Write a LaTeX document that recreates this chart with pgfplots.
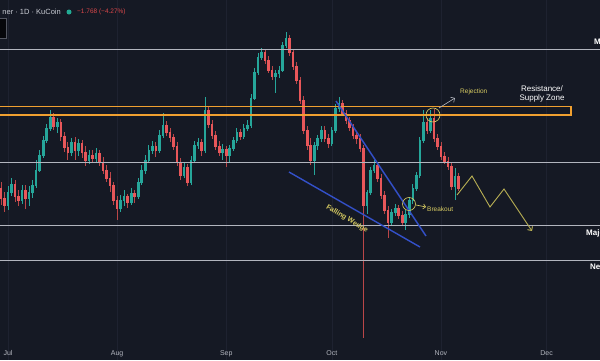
\documentclass[border=0pt]{standalone}
\usepackage{pgfplots}
\pgfplotsset{compat=1.18}
\usepackage{pgfplotstable}
\usepackage{fontspec}
\setmainfont{Liberation Sans}
\usetikzlibrary{arrows.meta}
\definecolor{bg}{HTML}{151924}
\definecolor{gridc}{HTML}{1E2230}
\definecolor{upc}{HTML}{26A69A}
\definecolor{dnc}{HTML}{E8575A}
\definecolor{lvl}{HTML}{B2B5BE}
\definecolor{zone}{HTML}{F0A030}
\definecolor{wedge}{HTML}{3350C8}
\definecolor{ann}{HTML}{D8CC62}
\definecolor{proj}{HTML}{B9B054}
\definecolor{hdr}{HTML}{C8CBD3}
\definecolor{hdrred}{HTML}{D9474A}
\definecolor{dotg}{HTML}{22AB94}
\definecolor{axtxt}{HTML}{B2B5BE}

% d open high low close  (prices in picture units, larger = lower)
\pgfplotstableread{
d o h l c
-2 188 182 205 198
-1 198 192 212 205
0 205 186 210 192
1 192 178 196 184
2 184 180 202 196
3 196 190 206 200
4 200 185 204 190
5 190 185 209 198
6 198 186 206 192
7 192 180 198 185
8 185 160 188 170
9 170 150 172 155
10 155 136 158 140
11 140 124 143 128
12 128 110 131 117
13 117 113 130 126
14 126 118 133 122
15 122 119 141 136
16 136 132 152 147
17 147 142 160 152
18 152 138 156 142
19 142 137 160 150
20 150 139 156 143
21 143 140 158 152
22 152 146 166 160
23 160 150 164 155
24 155 150 163 158
25 158 148 162 153
26 153 150 166 162
27 162 157 174 170
28 170 165 182 178
29 178 172 192 185
30 185 182 205 200
31 200 196 220 208
32 208 195 212 200
33 200 190 206 196
34 196 194 208 202
35 202 188 205 193
36 193 190 203 196
37 196 178 199 182
38 182 165 185 170
39 170 155 174 160
40 160 145 163 150
41 150 141 154 146
42 146 142 157 150
43 150 130 153 135
44 135 113 138 125
45 125 121 136 132
46 132 128 142 137
47 137 134 150 146
48 146 142 166 162
49 162 158 180 175
50 175 163 178 167
51 167 164 186 182
52 182 156 185 160
53 160 141 163 145
54 145 138 149 142
55 142 139 156 150
56 150 97 153 110
57 110 106 128 124
58 124 120 139 135
59 135 131 150 146
60 146 141 156 152
61 152 144 160 149
62 149 146 167 155
63 155 145 162 148
64 148 137 151 140
65 140 128 143 132
66 132 129 140 136
67 136 124 139 128
68 128 120 131 125
69 125 94 128 98
70 98 68 100 72
71 72 53 75 57
72 57 48 60 52
73 52 49 64 60
74 60 56 73 70
75 70 66 80 76
76 76 70 93 73
77 73 66 78 70
78 70 42 72 45
79 45 32 48 38
80 38 35 56 52
81 52 49 70 66
82 66 62 84 80
83 80 77 104 100
84 100 96 134 130
85 130 126 150 145
86 145 138 165 160
87 160 142 175 145
88 145 135 150 138
89 138 126 142 130
90 130 126 142 138
91 138 134 148 143
92 143 127 146 130
93 130 104 133 108
94 108 97 112 103
95 103 100 116 113
96 113 110 124 120
97 120 117 131 127
98 127 124 139 135
99 135 131 144 138
100 138 134 152 148
101 148 145 338 205
102 205 190 214 192
103 192 167 195 170
104 170 160 173 165
105 165 162 182 178
106 178 174 199 195
107 195 191 214 210
108 210 206 238 222
109 222 209 226 212
110 212 204 216 208
111 208 205 219 215
112 215 211 226 222
113 222 210 230 214
114 214 197 218 200
115 200 184 204 188
116 188 172 191 175
117 175 137 178 140
118 140 110 143 122
119 122 118 134 130
120 130 110 133 118
121 118 109 142 138
122 138 134 150 146
123 146 142 160 156
124 156 152 164 161
125 161 157 170 166
126 166 162 190 186
127 186 168 200 176
128 176 173 191 188
}\candles

\begin{document}
\begin{tikzpicture}
\useasboundingbox (0,0) rectangle (600pt,360pt);
\clip (0,0) rectangle (600pt,360pt);
\fill[bg] (0,0) rectangle (600pt,360pt);
\begin{axis}[
  at={(0,0)}, anchor=south west,
  scale only axis, width=600pt, height=360pt,
  xmin=-2.2727, xmax=168.18, ymin=0, ymax=360, y dir=reverse,
  axis line style={draw=none}, major tick length=0pt,
  ytick=\empty,
  xtick={0,31,62,92,123,153},
  xticklabels={Jul,Aug,Sep,Oct,Nov,Dec},
  xticklabel style={font=\fontsize{7}{8}\selectfont, text=axtxt, yshift=13pt},
  xmajorgrids, grid style={color=gridc, line width=0.6pt},
  unbounded coords=discard,
]
% wicks
\addplot[draw=none, mark=none, forget plot,
  error bars/.cd, y dir=both, y explicit, error mark=none,
  error bar style={line width=0.7pt, color=upc}]
  table[x=d, y expr={\thisrow{c}<\thisrow{o} ? (\thisrow{h}+\thisrow{l})/2 : nan},
        y error expr={(\thisrow{l}-\thisrow{h})/2}] {\candles};
\addplot[draw=none, mark=none, forget plot,
  error bars/.cd, y dir=both, y explicit, error mark=none,
  error bar style={line width=0.7pt, color=dnc!80!black}]
  table[x=d, y expr={\thisrow{c}<\thisrow{o} ? nan : (\thisrow{h}+\thisrow{l})/2},
        y error expr={(\thisrow{l}-\thisrow{h})/2}] {\candles};
% bodies
\addplot[draw=none, mark=none, forget plot,
  error bars/.cd, y dir=both, y explicit, error mark=none,
  error bar style={line width=2.6pt, color=upc}]
  table[x=d, y expr={\thisrow{c}<\thisrow{o} ? (\thisrow{o}+\thisrow{c})/2 : nan},
        y error expr={abs(\thisrow{o}-\thisrow{c})/2+0.5}] {\candles};
\addplot[draw=none, mark=none, forget plot,
  error bars/.cd, y dir=both, y explicit, error mark=none,
  error bar style={line width=2.6pt, color=dnc}]
  table[x=d, y expr={\thisrow{c}<\thisrow{o} ? nan : (\thisrow{o}+\thisrow{c})/2},
        y error expr={abs(\thisrow{o}-\thisrow{c})/2+0.5}] {\candles};
\end{axis}

\begin{scope}[x=1pt, y=-1pt, shift={(0,360pt)}]
% horizontal levels
\draw[lvl, line width=0.9pt] (0,49) -- (600,49);
\draw[lvl, line width=0.9pt] (0,162) -- (600,162);
\draw[lvl, line width=0.9pt] (0,225) -- (600,225);
\draw[lvl, line width=0.9pt] (0,260) -- (600,260);
% resistance zone
\draw[zone, line width=1.3pt] (-3,106.5) rectangle (571,115);
% wedge
\draw[wedge, line width=1.4pt] (336,101) -- (426,236);
\draw[wedge, line width=1.4pt] (289,172) -- (420,247);
\node[text=ann, font=\bfseries\fontsize{7}{8}\selectfont, rotate=-31] at (347,219) {Falling Wedge};
% breakout
\draw[ann, line width=0.6pt] (409,204) circle (6.5pt);
\draw[ann, line width=0.6pt, -{Straight Barb[length=2.5pt]}] (416,205) -- (426,207);
\node[text=ann, font=\fontsize{6.5}{7}\selectfont, anchor=west, inner sep=0pt] at (427,209) {Breakout};
% rejection
\draw[ann, line width=0.6pt] (433,115) circle (7pt);
\draw[lvl, line width=0.6pt, -{Straight Barb[length=3pt]}] (439,108) -- (455,98);
\node[text=ann, font=\fontsize{6.5}{7}\selectfont, anchor=west, inner sep=0pt] at (460,92) {Rejection};
% zone text
\node[text=white, font=\fontsize{8}{9.5}\selectfont, align=center, inner sep=0pt] at (542,94) {Resistance/\\Supply Zone};
% projection path
\draw[proj, line width=0.9pt, -{Straight Barb[length=3pt]}] (457,195) -- (472,176) -- (490,207) -- (504,189) -- (532,231);
% right-edge labels (cut off, as in the reference)
\node[text=white, font=\bfseries\fontsize{8}{9}\selectfont, anchor=west, inner sep=0pt] at (594,42) {Major Resistance};
\node[text=white, font=\bfseries\fontsize{8}{9}\selectfont, anchor=west, inner sep=0pt] at (586,233) {Major Support};
\node[text=white, font=\bfseries\fontsize{8}{9}\selectfont, anchor=west, inner sep=0pt] at (590,268) {Next Support};
% header
\node[text=hdr, font=\fontsize{7.5}{8.5}\selectfont, anchor=east, inner sep=0pt] at (61,12) {ner · 1D · KuCoin};
\fill[dotg] (69,12) circle (2.5pt);
\node[text=hdrred, font=\fontsize{6.5}{7.5}\selectfont, anchor=west, inner sep=0pt] at (77,12) {−1.768 (−4.27\%)};
\draw[lvl!40!bg, fill=black!70!bg, line width=0.6pt] (-2,18) rectangle (6,38);
\end{scope}
\end{tikzpicture}
\end{document}
